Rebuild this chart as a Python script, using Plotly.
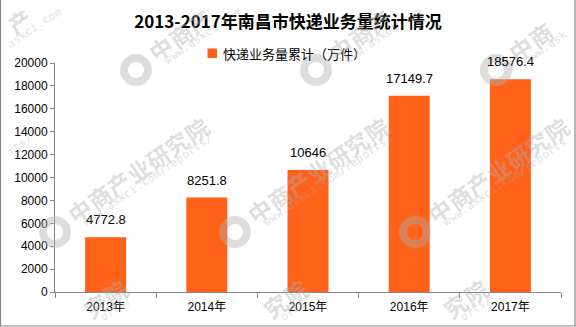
import math
import plotly.graph_objects as go

# Express delivery volume in Nanchang, 2013-2017 (10k pieces)
years = ["2013年", "2014年", "2015年", "2016年", "2017年"]
volume = [4772.8, 8251.8, 10646, 17149.7, 18576.4]
value_labels = ["4772.8", "8251.8", "10646", "17149.7", "18576.4"]

title_text = "2013-2017年南昌市快递业务量统计情况"
legend_text = "快递业务量累计（万件）"
wm_main = "中商产业研究院"
wm_sub = "www.askci.com/reports/"

W, H = 576, 327
L, R, T, B = 55, 15, 63, 35
PW, PH = W - L - R, H - T - B

BAR = "#FF6119"
AXIS = "#868686"
NUM_FONT = "Liberation Sans, Arial, Noto Sans CJK SC, sans-serif"


def px(x):
    return (x - L) / PW


def py(y):
    return (H - B - y) / PH


fig = go.Figure()
fig.add_trace(go.Bar(
    x=years, y=volume, width=0.405, marker=dict(color=BAR, line=dict(width=0)),
    name=legend_text, showlegend=False, hoverinfo="x+y",
))

annotations = []
shapes = []

# value labels above bars
for yr, v, lab in zip(years, volume, value_labels):
    annotations.append(dict(
        x=yr, y=v, xref="x", yref="y", text=lab, showarrow=False,
        yanchor="bottom", yshift=8,
        font=dict(family=NUM_FONT, size=13, color="#000000"),
    ))

# legend swatch and label
shapes.append(dict(type="rect", xref="paper", yref="paper",
                   x0=px(207.5), x1=px(217), y0=py(48.5), y1=py(58),
                   fillcolor=BAR, line=dict(width=0), layer="above"))
annotations.append(dict(
    x=px(221), y=py(53.5), xref="paper", yref="paper", text=legend_text,
    showarrow=False, xanchor="left", yanchor="middle",
    font=dict(family="Noto Sans CJK SC, sans-serif", size=13, color="#000000"),
))

# repeated watermark pattern, laid out glyph by glyph so only whole glyphs
# inside the page are drawn
ANG = 34.6
ux, uy = math.cos(math.radians(ANG)), -math.sin(math.radians(ANG))
wm_color = "rgba(175,175,175,0.42)"


def glyph_run(text, cx, cy, adv, size, family, bold=False):
    n = len(text)
    half = 0.75 * size
    for k, ch in enumerate(text):
        off = (k - (n - 1) / 2) * adv
        gx, gy = cx + off * ux, cy + off * uy
        if half <= gx <= W - half and half <= gy <= H - half:
            annotations.append(dict(
                x=px(gx), y=py(gy), xref="paper", yref="paper",
                text=f"<b>{ch}</b>" if bold else ch,
                showarrow=False, textangle=-ANG, xanchor="center", yanchor="middle",
                font=dict(family=family, size=size, color=wm_color),
            ))


for j in (-1, 0, 1):
    for i in (-1, 0, 1, 2):
        lx = 55 + 180 * i + 81 * j
        ly = 232 - 162 * j
        cx, cy = lx + 83, ly - 62
        glyph_run(wm_main, cx, cy, 23.5, 23, "Noto Sans CJK SC, sans-serif", bold=True)
        glyph_run(wm_sub, cx + 10, cy + 10, 7.0, 11, "DejaVu Sans Mono, monospace")
        # round logo mark
        r = 12
        shapes.append(dict(
            type="circle", xref="paper", yref="paper",
            x0=px(lx - r), x1=px(lx + r), y0=py(ly + r), y1=py(ly - r),
            line=dict(color=wm_color, width=8), fillcolor="rgba(0,0,0,0)",
            layer="above",
        ))

# outer frame (left, bottom, right)
shapes.append(dict(
    type="path", xref="paper", yref="paper",
    path=f"M {px(0.5)},{py(0)} L {px(0.5)},{py(326)} L {px(575)},{py(326)} L {px(575)},{py(0)}",
    line=dict(color=AXIS, width=1.2), layer="above",
))

fig.update_layout(
    width=W, height=H,
    margin=dict(l=L, r=R, t=T, b=B, pad=0),
    paper_bgcolor="white", plot_bgcolor="white",
    title=dict(text=f"<b>{title_text}</b>", x=0.5, xref="container", xanchor="center",
               y=1 - 22 / H, yref="container", yanchor="middle",
               font=dict(family="Noto Sans CJK SC, sans-serif", size=17, color="#000000")),
    annotations=annotations,
    shapes=shapes,
    showlegend=False,
)
fig.update_xaxes(
    type="category", showline=True, linecolor=AXIS, linewidth=1,
    ticks="outside", tickson="boundaries", ticklen=5, tickcolor=AXIS,
    showgrid=False, zeroline=False, ticklabelstandoff=4,
    tickfont=dict(family=NUM_FONT, size=12, color="#000000"),
)
fig.update_yaxes(
    range=[0, 20000], dtick=2000, tick0=0, tickformat="d",
    showline=True, linecolor=AXIS, linewidth=1,
    ticks="outside", ticklen=4, tickcolor=AXIS, showgrid=False, zeroline=False,
    tickfont=dict(family=NUM_FONT, size=12, color="#000000"),
)

fig.write_html("out.html")
